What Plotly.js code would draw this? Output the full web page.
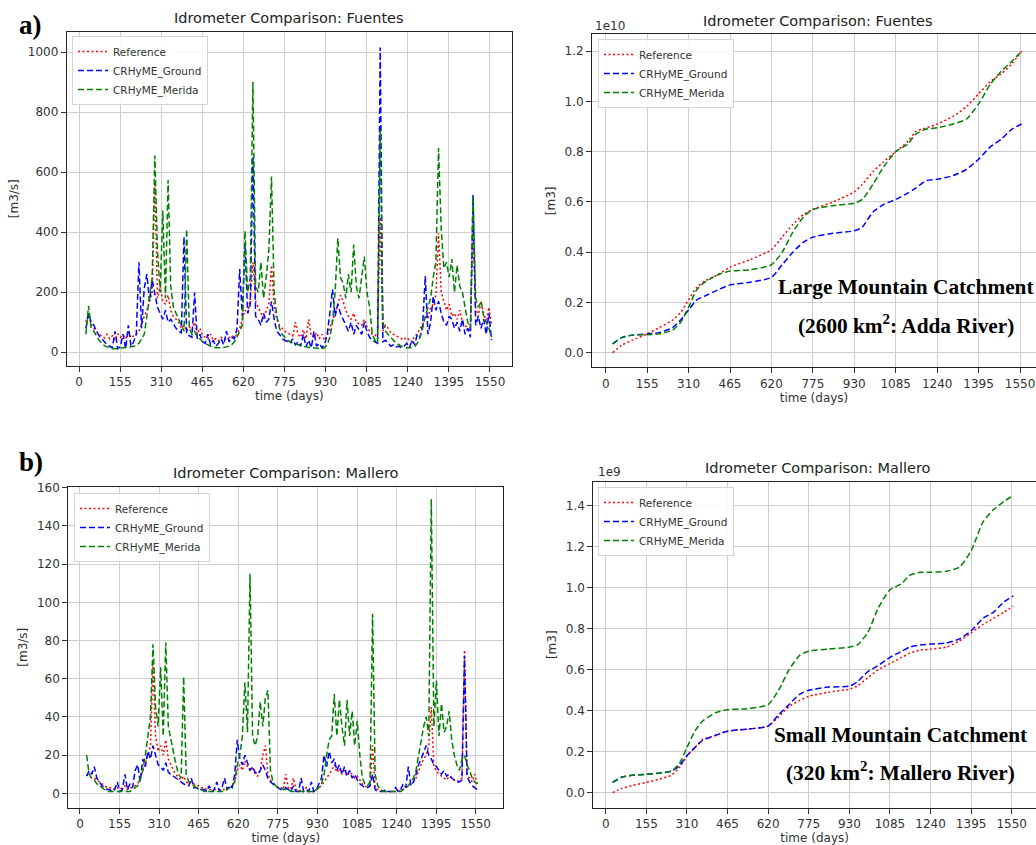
<!DOCTYPE html>
<html>
<head>
<meta charset="utf-8">
<script src="https://cdn.plot.ly/plotly-3.0.1.min.js"></script>
<style>html,body{margin:0;padding:0;background:#fff;}#chart{width:1036px;height:845px;}</style>
</head>
<body>
<div id="chart"></div>
<script>
// ---------- daily time axis (days) ----------
const days = [26,36,46,56,66,76,86,96,106,116,126,136,146,156,166,176,186,196,206,216,226,236,246,256,266,276,286,296,306,316,326,336,346,356,366,376,386,396,406,416,426,436,446,456,466,476,486,496,506,516,526,536,546,556,566,576,586,596,606,616,626,636,646,656,666,676,686,696,706,716,726,736,746,756,766,776,786,796,806,816,826,836,846,856,866,876,886,896,906,916,926,936,946,956,966,976,986,996,1006,1016,1026,1036,1046,1056,1066,1076,1086,1096,1106,1116,1126,1136,1146,1156,1166,1176,1186,1196,1206,1216,1226,1236,1246,1256,1266,1276,1286,1296,1306,1316,1326,1336,1346,1356,1366,1376,1386,1396,1406,1416,1426,1436,1446,1456,1466,1476,1486,1496,1506,1516,1526,1536,1546,1556];

// ---------- Fuentes daily discharge [m3/s] ----------
const fuentesRef = [
100,125,90,80,70,60,55,48,60,45,
55,40,62,50,58,45,65,48,55,60,
70,90,120,140,170,200,574,180,220,170,
160,190,140,120,110,100,80,90,70,85,
75,100,60,80,55,50,45,60,40,45,
38,50,42,45,48,55,50,60,80,110,
140,130,180,300,170,150,130,110,140,160,
290,150,110,90,80,70,65,60,55,100,
60,50,75,45,110,55,50,65,45,60,
40,55,80,100,130,160,190,170,140,120,
110,130,100,95,90,110,85,70,60,55,
65,450,70,90,80,65,60,55,50,45,
50,40,45,35,55,60,80,90,120,110,
150,160,190,397,200,170,140,160,120,130,
110,140,100,90,80,70,413,150,120,170,
130,100,150,90];
const fuentesGround = [
80,130,100,90,70,55,45,35,25,20,
15,70,12,18,60,12,90,20,35,60,
300,80,213,260,170,240,200,150,130,110,
140,100,110,95,80,70,65,385,60,55,
50,199,45,60,35,30,60,25,40,20,
30,45,25,70,35,50,45,80,277,120,
363,130,160,652,120,110,90,130,100,110,
170,110,70,60,45,40,35,30,45,25,
35,20,60,18,40,15,70,20,30,15,
25,60,130,210,120,160,130,110,90,70,
100,60,90,75,60,100,70,50,40,35,
30,1015,35,40,30,20,25,18,20,15,
20,30,15,40,25,60,50,90,254,60,
100,186,140,170,130,100,90,120,110,80,
100,70,110,60,80,50,524,90,120,80,
110,60,130,40];
const fuentesMerida = [
60,155,80,70,55,40,30,22,18,15,
12,12,13,12,14,15,15,18,20,22,
30,45,60,120,180,250,655,340,200,472,
180,574,220,150,130,110,90,70,410,80,
60,70,50,45,35,30,25,20,18,15,
15,15,16,18,20,25,35,50,70,90,
404,200,250,900,220,200,300,180,250,340,
585,200,120,80,60,50,40,35,30,28,
25,22,20,18,16,15,14,13,12,12,
15,25,50,100,200,380,250,230,180,260,
200,358,220,180,250,319,200,150,60,40,
30,740,100,70,60,50,40,30,25,20,
18,15,15,16,20,30,50,80,120,150,
180,250,300,680,413,280,300,250,310,200,
290,220,200,150,100,80,520,180,150,170,
120,100,80,50];

// ---------- Mallero daily discharge [m3/s] ----------
const malleroRef = [
10,9,8,8,7,6,5,4,3,3,
3,2,3,2,3,4,2,3,3,4,
5,8,12,15,20,25,68,30,22,25,
20,28,18,15,12,10,8,7,9,6,
5,6,5,4,4,3,3,2,2,2,
2,2,2,2,2,3,3,4,6,12,
15,12,17,14,12,13,10,9,12,20,
25,10,7,5,4,3,3,2,10,3,
2,8,2,1,2,1,3,1,1,1,
2,3,4,6,8,10,12,15,11,13,
10,12,9,11,10,8,9,7,5,4,
3,4,25,3,2,2,1,1,1,1,
1,1,1,2,2,3,4,5,6,8,
12,15,18,20,25,45,14,12,10,9,
8,7,9,8,7,6,7,8,75,10,
8,6,10,5];
const malleroGround = [
9,12,10,14,8,6,4,3,2,2,
1,2,6,1,2,10,2,5,3,12,
15,6,18,14,22,18,25,20,15,14,
12,16,11,10,9,8,7,6,5,4,
4,8,3,3,2,2,2,1,4,1,
2,6,1,3,8,2,4,3,10,28,
18,15,20,16,12,14,11,10,12,15,
12,8,6,5,4,3,2,2,3,2,
1,4,1,1,8,1,2,1,6,1,
2,5,8,20,14,22,16,18,12,15,
10,14,9,12,8,10,7,5,4,3,
3,4,10,2,1,1,1,2,1,1,
1,3,1,2,5,3,14,4,6,10,
15,18,22,25,20,18,15,14,12,10,
12,9,10,8,7,6,6,7,72,9,
6,4,3,2];
const malleroMerida = [
20,10,8,7,5,4,3,2,1,1,
1,1,1,1,1,1,1,1,2,3,
4,8,12,20,30,40,78,45,35,66,
30,79,35,28,20,15,10,8,61,10,
6,5,4,3,2,2,1,1,1,1,
1,1,1,1,1,2,3,4,6,15,
20,30,58,32,115,30,25,30,48,35,
50,54,12,6,4,3,3,2,2,2,
1,1,1,1,1,1,1,1,1,1,
2,3,5,10,20,28,30,52,30,49,
35,25,49,30,43,25,38,20,8,5,
4,6,94,10,4,2,1,1,1,1,
1,1,1,1,2,3,4,6,8,12,
20,28,35,40,30,154,35,59,30,47,
32,35,43,28,20,15,12,18,20,15,
12,8,6,5];

// ---------- cumulative volumes ----------
const cumDays = [26,60,100,155,200,250,280,310,340,370,420,465,540,620,660,700,740,775,850,930,960,1000,1040,1085,1130,1160,1200,1240,1300,1350,1395,1440,1480,1520,1556];
// Fuentes, units of 1e10 m3
const fuentesCumRef    = [0.0,0.03,0.05,0.075,0.10,0.13,0.16,0.21,0.26,0.285,0.31,0.34,0.37,0.41,0.46,0.51,0.55,0.57,0.60,0.64,0.67,0.72,0.76,0.80,0.84,0.88,0.895,0.91,0.94,0.98,1.03,1.08,1.11,1.15,1.20];
const fuentesCumGround = [0.035,0.06,0.07,0.075,0.08,0.10,0.13,0.17,0.21,0.225,0.25,0.27,0.28,0.30,0.35,0.40,0.44,0.46,0.475,0.485,0.50,0.56,0.59,0.61,0.635,0.655,0.685,0.69,0.705,0.73,0.77,0.82,0.85,0.89,0.91];
const fuentesCumMerida = [0.035,0.06,0.07,0.072,0.075,0.09,0.12,0.18,0.25,0.28,0.31,0.325,0.33,0.35,0.40,0.48,0.54,0.57,0.585,0.595,0.61,0.67,0.74,0.80,0.83,0.87,0.89,0.895,0.91,0.93,0.99,1.07,1.12,1.16,1.20];
// Mallero, units of 1e9 m3
const malleroCumRef    = [0.0,0.02,0.035,0.05,0.065,0.085,0.12,0.18,0.22,0.26,0.28,0.30,0.31,0.325,0.37,0.42,0.45,0.47,0.49,0.505,0.52,0.56,0.60,0.63,0.66,0.68,0.695,0.70,0.71,0.74,0.78,0.82,0.85,0.88,0.91];
const malleroCumGround = [0.05,0.075,0.085,0.09,0.095,0.105,0.13,0.18,0.22,0.255,0.28,0.30,0.31,0.325,0.38,0.43,0.48,0.50,0.515,0.52,0.54,0.59,0.62,0.66,0.69,0.71,0.72,0.725,0.73,0.75,0.79,0.85,0.88,0.93,0.96];
const malleroCumMerida = [0.05,0.075,0.085,0.09,0.095,0.105,0.14,0.22,0.30,0.35,0.39,0.405,0.41,0.43,0.50,0.60,0.67,0.69,0.70,0.71,0.72,0.78,0.90,0.99,1.02,1.06,1.075,1.075,1.08,1.10,1.18,1.32,1.38,1.42,1.45];

const seriesNames = ['Reference','CRHyME_Ground','CRHyME_Merida'];
const xTicks = [0,155,310,465,620,775,930,1085,1240,1395,1550];

// ---------- styles ----------
const lineStyles = [
  {color:'#ff0000', width:1.5, dash:'2px,2.5px'},
  {color:'#0000ff', width:1.5, dash:'6px,3px'},
  {color:'#008000', width:1.5, dash:'6px,3px'}
];

function mk(x, ys, xa, ya, lg, spline){
  return ys.map((y,i)=>({
    type:'scatter', mode:'lines', x:x, y:y, name:seriesNames[i],
    xaxis:xa, yaxis:ya, legend:lg,
    line:Object.assign({}, lineStyles[i], spline?{shape:'spline',smoothing:0.6}:{}),
    hoverinfo:'skip'
  }));
}

const data = [].concat(
  mk(days, [fuentesRef, fuentesGround, fuentesMerida], 'x', 'y', 'legend', false),
  mk(cumDays, [fuentesCumRef, fuentesCumGround, fuentesCumMerida], 'x2', 'y2', 'legend2', true),
  mk(days, [malleroRef, malleroGround, malleroMerida], 'x3', 'y3', 'legend3', false),
  mk(cumDays, [malleroCumRef, malleroCumGround, malleroCumMerida], 'x4', 'y4', 'legend4', true)
);

const W = 1036, H = 845;
const px = v => v / W;
const py = v => 1 - v / H;

function ax(extra){
  return Object.assign({
    showline:true, linecolor:'#222', linewidth:1, mirror:true,
    ticks:'outside', ticklen:5, tickwidth:1, tickcolor:'#333',
    showgrid:true, gridcolor:'#cdcdcd', gridwidth:1, zeroline:false,
    tickfont:{family:'DejaVu Sans', size:12, color:'#333'},
    fixedrange:true
  }, extra);
}
function xax(domain, range, anchor, mirror){
  return ax({domain:domain, range:range, anchor:anchor, tickmode:'array', tickvals:xTicks,
    ticktext:xTicks.map(String), mirror:mirror,
    title:{text:'time (days)', font:{family:'DejaVu Sans', size:12, color:'#333'}, standoff:3}});
}
function yax(domain, range, anchor, dtick, fmt, label, mirror){
  const o = {domain:domain, range:range, anchor:anchor, tickmode:'linear', tick0:0, dtick:dtick, mirror:mirror,
    title:{text:label, font:{family:'DejaVu Sans', size:12, color:'#333'}, standoff:6}};
  if (fmt) o.tickformat = fmt;
  return ax(o);
}
function legendAt(x, y){
  return {x:px(x), y:py(y), xanchor:'left', yanchor:'top', bgcolor:'rgba(255,255,255,0.85)',
    bordercolor:'#d4d4d4', borderwidth:1, font:{family:'DejaVu Sans', size:10.5, color:'#333'},
    tracegroupgap:0, itemwidth:30};
}
function txt(text, x, y, size, opts){
  return Object.assign({text:text, x:px(x), y:py(y), xref:'paper', yref:'paper', showarrow:false,
    xanchor:'center', yanchor:'middle',
    font:{family:'DejaVu Sans', size:size, color:'#222'}}, opts||{});
}
const serif = (s)=>({family:'Liberation Serif, Times New Roman, serif', size:s, color:'#000'});

const layout = {
  width:W, height:H, margin:{l:0,r:0,t:0,b:0},
  paper_bgcolor:'#ffffff', plot_bgcolor:'#ffffff',
  font:{family:'DejaVu Sans', size:12, color:'#333'},
  showlegend:true,
  xaxis: xax([px(66.7), px(512)], [-46.4, 1633], 'y', true),
  yaxis: yax([py(365.7), py(31.7)], [-44.7, 1067.7], 'x', 200, null, '[m3/s]', true),
  xaxis2: xax([px(592), 1], [-51.3, 1609.8], 'y2', true),
  yaxis2: yax([py(367.3), py(34.3)], [-0.058, 1.267], 'x2', 0.2, '.1f', '[m3]', false),
  xaxis3: xax([px(68.3), px(503.3)], [-45.8, 1658], 'y3', true),
  yaxis3: yax([py(807.7), py(486.7)], [-7.5, 160.5], 'x3', 20, null, '[m3/s]', true),
  xaxis4: xax([px(593.3), 1], [-47.6, 1642.7], 'y4', true),
  yaxis4: yax([py(807.7), py(481.7)], [-0.0732, 1.517], 'x4', 0.2, '.1f', '[m3]', false),
  legend: legendAt(72, 36),
  legend2: legendAt(598, 39),
  legend3: legendAt(74, 493),
  legend4: legendAt(598, 487),
  annotations: [
    txt('<b>a)</b>', 17, 25, 27, {xanchor:'left', font:serif(27)}),
    txt('<b>b)</b>', 17, 461.7, 27, {xanchor:'left', font:serif(27)}),
    txt('Idrometer Comparison: Fuentes', 289, 18, 14.5),
    txt('Idrometer Comparison: Fuentes', 817.5, 21, 14.5),
    txt('Idrometer Comparison: Mallero', 285.8, 473, 14.5),
    txt('Idrometer Comparison: Mallero', 817.5, 468, 14.5),
    txt('1e10', 593, 25.7, 12, {xanchor:'left', font:{family:'DejaVu Sans', size:12, color:'#333'}}),
    txt('1e9', 596, 472.3, 12, {xanchor:'left', font:{family:'DejaVu Sans', size:12, color:'#333'}}),
    txt('<b>Large Mountain Catchment</b>', 906, 287, 21.3, {font:serif(21.3)}),
    txt('<b>(2600 km<sup>2</sup>: Adda River)</b>', 906, 324, 21.3, {font:serif(21.3)}),
    txt('<b>Small Mountain Catchment</b>', 900, 735, 21.3, {font:serif(21.3)}),
    txt('<b>(320 km<sup>2</sup>: Mallero River)</b>', 900, 771.7, 21.3, {font:serif(21.3)})
  ]
};

Plotly.newPlot('chart', data, layout, {staticPlot:true, displayModeBar:false});
</script>
</body>
</html>
